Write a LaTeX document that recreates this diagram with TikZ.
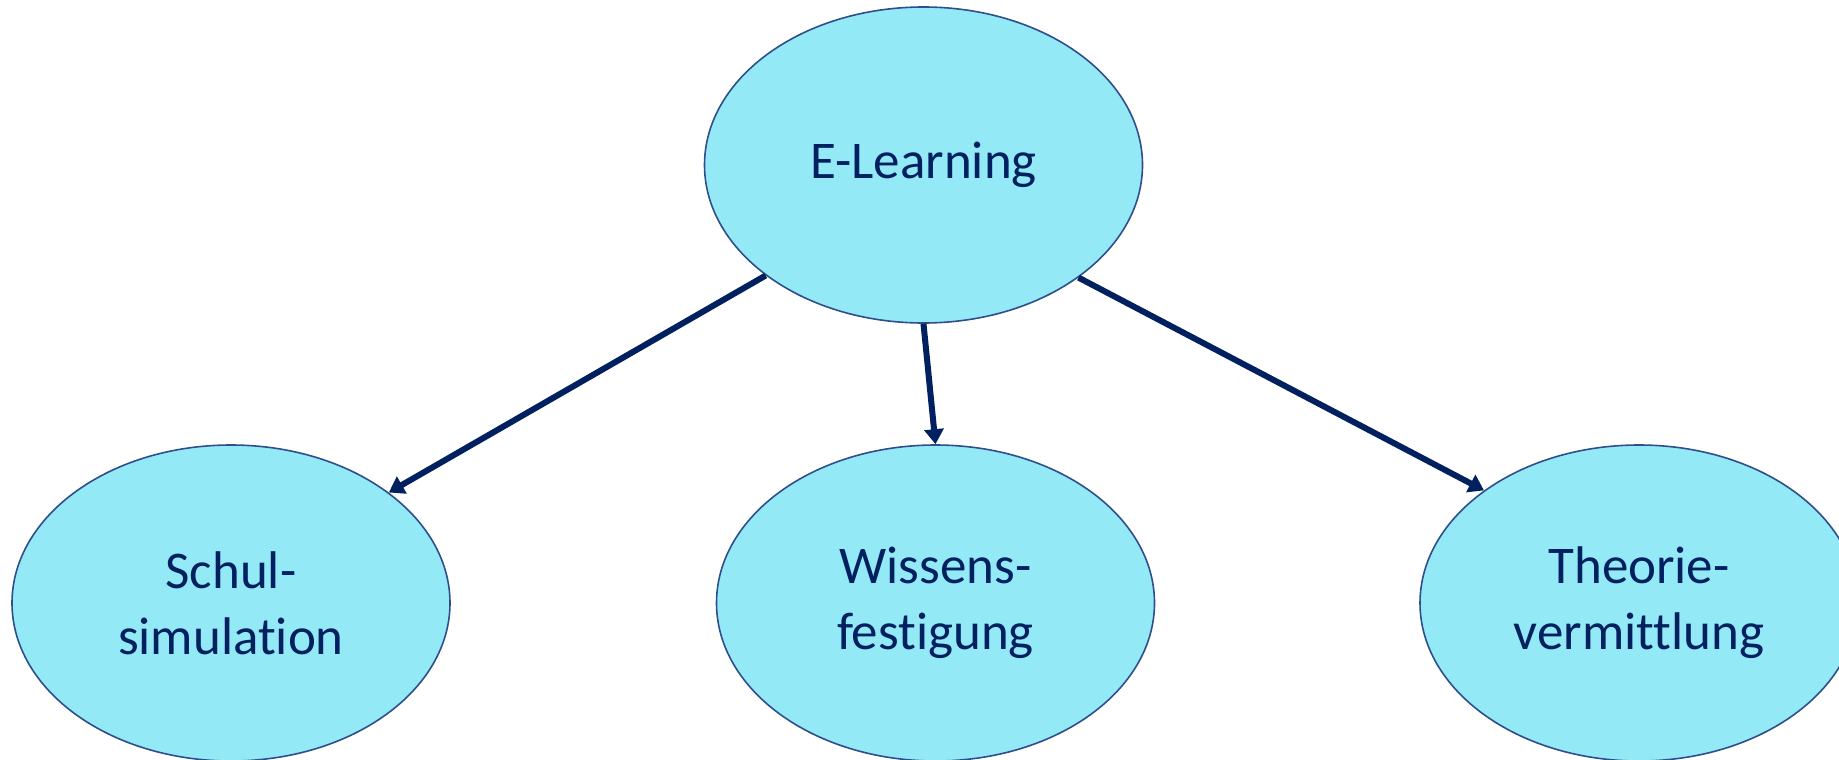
\documentclass[tikz,border=0pt]{standalone}
\usepackage{fontspec}
\setmainfont{Carlito}[Ligatures={NoCommon}]
\usetikzlibrary{shapes.geometric,arrows.meta}
\definecolor{navy}{HTML}{002060}
\definecolor{bubble}{HTML}{93E9F6}
\definecolor{rim}{HTML}{2F4F8C}
\tikzset{
  bubblenode/.style={ellipse, draw=rim, line width=1.6pt, fill=bubble,
    minimum width=438pt, minimum height=316pt, inner sep=0pt,
    text=navy, align=center, font=\fontsize{53}{66}\selectfont},
  linkarrow/.style={draw=navy, line width=6pt, -{Triangle[width=19pt,length=15pt]}}
}
\begin{document}
\begin{tikzpicture}[x=1pt,y=-1pt]
\useasboundingbox (0,0) rectangle (1839,760);
\node[bubblenode] (top) at (923.5,165) {E-Learning};
\node[bubblenode] (left) at (231,603) {Schul-\\simulation};
\node[bubblenode] (mid) at (935.5,603) {Wissens-\\festigung};
\node[bubblenode] (right) at (1639,603) {Theorie-\\vermittlung};
\draw[linkarrow] (top.215.3) -- (left.35.9);
\draw[linkarrow] (top.270.5) -- (mid.90);
\draw[linkarrow] (top.324.6) -- (right.144.1);
\end{tikzpicture}
\end{document}
